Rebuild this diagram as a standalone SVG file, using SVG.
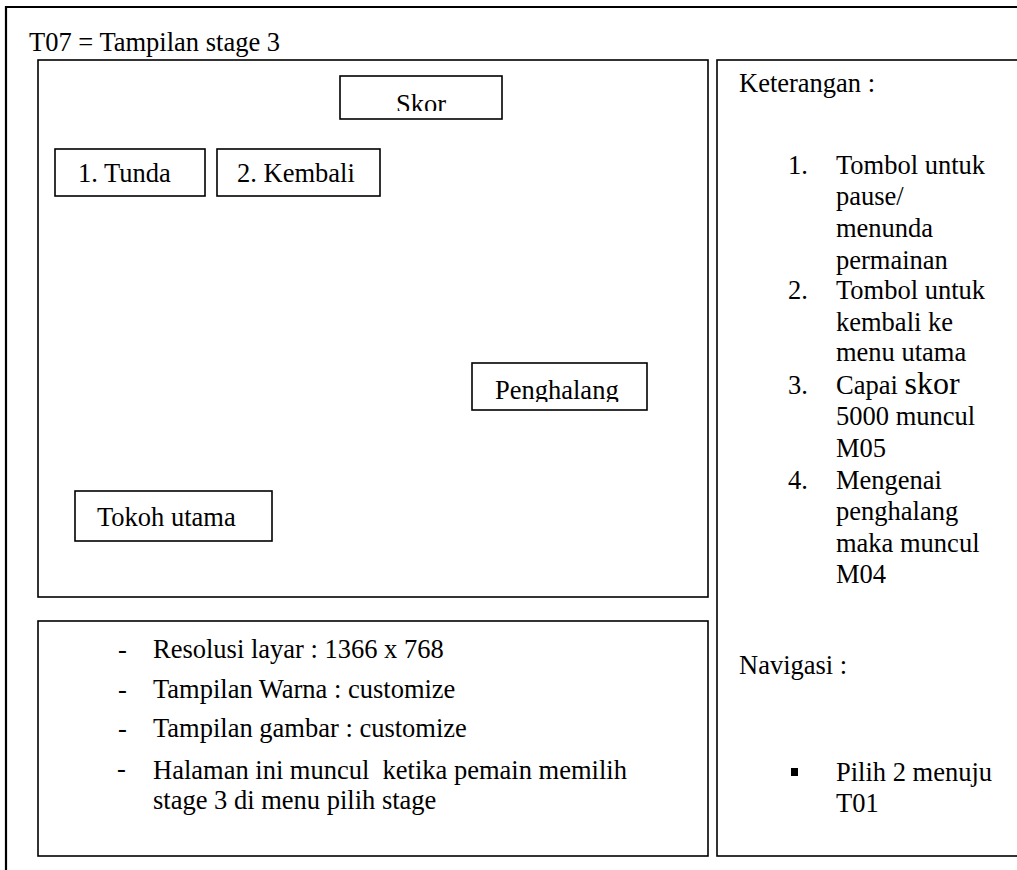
<svg xmlns="http://www.w3.org/2000/svg" width="1017" height="870" viewBox="0 0 1017 870">
  <style>
    .frame { fill: none; stroke: #000; stroke-width: 2.2; }
    .box { fill: #fff; stroke: #000; stroke-width: 1.6; }
    .t { font-family: "Liberation Serif", "Times New Roman", serif; font-size: 26.5px; fill: #000; white-space: pre; }
    .big { font-size: 32px; }
  </style>
  <defs>
    <clipPath id="clip-skor"><rect x="340" y="76" width="162" height="35"/></clipPath>
    <clipPath id="clip-penghalang"><rect x="472" y="363" width="175" height="39"/></clipPath>
  </defs>

  <rect width="1017" height="870" fill="#fff"/>

  <!-- outer page frame -->
  <g id="page">
    <path class="frame" d="M1020 7 H6 V875"/>
    <text class="t" x="29" y="51">T07 = Tampilan stage 3</text>
  </g>

  <!-- game screen area -->
  <g id="screen">
    <rect class="box" x="38" y="60" width="670" height="537"/>
  </g>

  <g id="skor">
    <rect class="box" x="340" y="76" width="162" height="43"/>
    <text class="t" x="421" y="113" text-anchor="middle" clip-path="url(#clip-skor)">Skor</text>
  </g>

  <g id="tunda">
    <rect class="box" x="55" y="149" width="150" height="47"/>
    <text class="t" x="78" y="182">1. Tunda</text>
  </g>

  <g id="kembali">
    <rect class="box" x="217" y="149" width="163" height="47"/>
    <text class="t" x="237" y="182">2. Kembali</text>
  </g>

  <g id="penghalang">
    <rect class="box" x="472" y="363" width="175" height="47"/>
    <text class="t" x="495" y="399" clip-path="url(#clip-penghalang)">Penghalang</text>
  </g>

  <g id="tokoh">
    <rect class="box" x="75" y="491" width="197" height="50"/>
    <text class="t" x="97" y="526">Tokoh utama</text>
  </g>

  <!-- specification box -->
  <g id="spesifikasi">
    <rect class="box" x="38" y="621" width="670" height="235"/>
    <text class="t" x="118" y="658">-</text>
    <text class="t" x="153" y="658">Resolusi layar : 1366 x 768</text>
    <text class="t" x="118" y="698">-</text>
    <text class="t" x="153" y="698">Tampilan Warna : customize</text>
    <text class="t" x="118" y="737">-</text>
    <text class="t" x="153" y="737">Tampilan gambar : customize</text>
    <text class="t" x="117" y="777">-</text>
    <text class="t" x="153" y="779" xml:space="preserve">Halaman ini muncul  ketika pemain memilih</text>
    <text class="t" x="153" y="809">stage 3 di menu pilih stage</text>
  </g>

  <!-- description panel -->
  <g id="keterangan">
    <rect class="box" x="717" y="60" width="310" height="796"/>
    <text class="t" x="739" y="92">Keterangan :</text>

    <text class="t" x="788" y="174">1.</text>
    <text class="t" x="836" y="174">Tombol untuk</text>
    <text class="t" x="836" y="205">pause/</text>
    <text class="t" x="836" y="237">menunda</text>
    <text class="t" x="836" y="269">permainan</text>

    <text class="t" x="788" y="299">2.</text>
    <text class="t" x="836" y="299">Tombol untuk</text>
    <text class="t" x="836" y="331">kembali ke</text>
    <text class="t" x="836" y="361">menu utama</text>

    <text class="t" x="788" y="394">3.</text>
    <text class="t" x="836" y="394">Capai <tspan class="big">skor</tspan></text>
    <text class="t" x="836" y="425">5000 muncul</text>
    <text class="t" x="836" y="457">M05</text>

    <text class="t" x="788" y="489">4.</text>
    <text class="t" x="836" y="489">Mengenai</text>
    <text class="t" x="836" y="520">penghalang</text>
    <text class="t" x="836" y="552">maka muncul</text>
    <text class="t" x="836" y="583">M04</text>

    <text class="t" x="739" y="674">Navigasi :</text>
    <rect x="791" y="768" width="7" height="8" fill="#000"/>
    <text class="t" x="836" y="781">Pilih 2 menuju</text>
    <text class="t" x="836" y="812">T01</text>
  </g>
</svg>
